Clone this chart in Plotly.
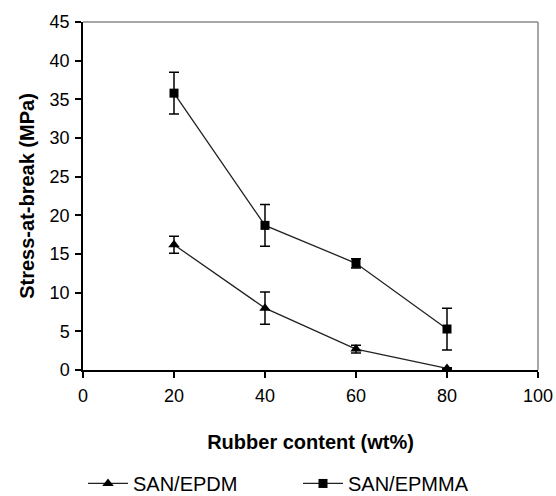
import plotly.graph_objects as go

rubber = [20, 40, 60, 80]
epdm = [16.2, 8.0, 2.7, 0.2]
epdm_err = [1.1, 2.1, 0.5, 0.1]
epmma = [35.8, 18.7, 13.8, 5.3]
epmma_err = [2.7, 2.7, 0.6, 2.7]

x_ticks = [0, 20, 40, 60, 80, 100]
y_ticks = [0, 5, 10, 15, 20, 25, 30, 35, 40, 45]

FONT = "Liberation Sans, Arial, sans-serif"

fig = go.Figure()
fig.add_trace(go.Scatter(
    x=rubber, y=epdm, name="SAN/EPDM", mode="lines+markers",
    line=dict(color="#222222", width=1.3),
    marker=dict(symbol="triangle-up", size=10, color="black"),
    error_y=dict(type="data", array=epdm_err, visible=True, color="black", thickness=1.5, width=5),
))
fig.add_trace(go.Scatter(
    x=rubber, y=epmma, name="SAN/EPMMA", mode="lines+markers",
    line=dict(color="#222222", width=1.3),
    marker=dict(symbol="square", size=9, color="black"),
    error_y=dict(type="data", array=epmma_err, visible=True, color="black", thickness=1.5, width=5),
))

fig.add_shape(type="line", xref="paper", yref="paper", x0=0, x1=1, y0=1, y1=1,
              line=dict(color="#8a8a8a", width=1.5))
fig.add_shape(type="line", xref="paper", yref="paper", x0=1, x1=1, y0=0, y1=1,
              line=dict(color="#8a8a8a", width=1.5))

fig.update_layout(
    width=556, height=496,
    margin=dict(l=83, r=18, t=22, b=126, autoexpand=False),
    paper_bgcolor="white", plot_bgcolor="white",
    font=dict(family=FONT, color="black", size=18),
    xaxis=dict(range=[0, 100], tickvals=x_ticks, ticktext=[str(v) for v in x_ticks],
               showline=True, linecolor="black", linewidth=1.5, automargin=False,
               ticks="outside", ticklen=6, tickcolor="black", tickwidth=1.5,
               showgrid=False, zeroline=False, ticklabelstandoff=3,
               tickfont=dict(size=18),
               title=dict(text="<b>Rubber content (wt%)</b>", font=dict(size=20), standoff=30)),
    yaxis=dict(range=[0, 45], tickvals=y_ticks, ticktext=[str(v) for v in y_ticks],
               showline=True, linecolor="black", linewidth=1.5, automargin=False,
               ticks="outside", ticklen=6, tickcolor="black", tickwidth=1.5,
               showgrid=False, zeroline=False, ticklabelstandoff=2,
               tickfont=dict(size=18),
               title=dict(text="<b>Stress-at-break (MPa)</b>", font=dict(size=20), standoff=10)),
    legend=dict(orientation="h", x=0.0, xanchor="left",
                y=-0.27, yanchor="top", entrywidth=160,
                font=dict(size=20), itemwidth=40, bgcolor="rgba(0,0,0,0)"),
    showlegend=True,
)

fig.write_html("out.html")
